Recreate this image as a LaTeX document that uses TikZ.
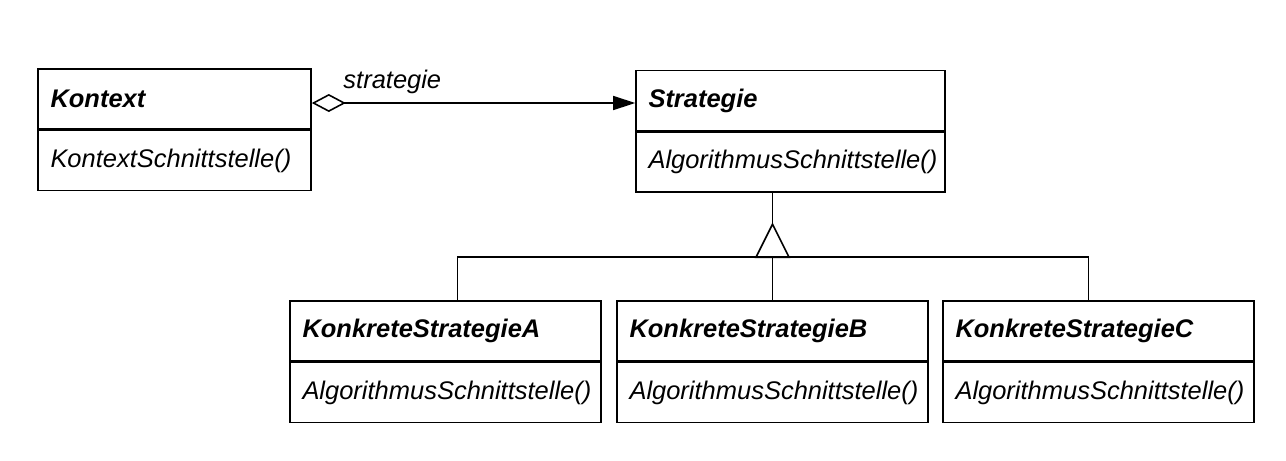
\documentclass[tikz,border=0pt]{standalone}
\usepackage{fontspec}
\setmainfont{Liberation Sans}
\usetikzlibrary{arrows.meta, positioning}

\begin{document}
\begin{tikzpicture}[line width=0.9pt,
        every node/.style={font=\fontsize{14.5}{17}\selectfont\itshape},
        cls/.style={draw, text width=#1, align=left, inner xsep=0.25cm, minimum height=1.2cm},
        clsname/.style={cls=#1, font=\fontsize{14.5}{17}\selectfont\bfseries\itshape}]
        \useasboundingbox (0,0) rectangle (25.72,-9.2);

        \node[clsname=4.96cm] (Ktx) at (3.49,-1.98) {Kontext};
        \node[cls=4.96cm, below=0pt of Ktx] (Ktxop) {KontextSchnittstelle()};

        \node[clsname=5.68cm] (S) at (15.81,-2.01) {Strategie};
        \node[cls=5.68cm, below=0pt of S] (Sop) {AlgorithmusSchnittstelle()};

        \foreach \n/\x in {A/8.91, B/15.45, C/21.97}{
            \node[clsname=5.72cm] (K\n) at (\x,-6.62) {KonkreteStrategie\n};
            \node[cls=5.72cm, below=0pt of K\n] (K\n op) {AlgorithmusSchnittstelle()};
        }

        % aggregation
        \draw[{Diamond[open,length=0.68cm,width=0.36cm]}-{Triangle[length=0.44cm,width=0.28cm]}]
            ([yshift=-0.08cm]Ktx.east) -- node[pos=0, above right, xshift=0.5cm, yshift=0.05cm] {strategie}
            ([yshift=-0.08cm]Ktx.east -| S.west);

        % inheritance
        \path (KB.north) ++(0,0.86) coordinate (base) ++(0,0.66) coordinate (apex);
        \draw (Sop.south -| apex) -- (apex);
        \draw[fill=white] (apex) -- ++(-0.33,-0.66) -- ++(0.66,0) -- cycle;
        \draw ([xshift=0.24cm]KA.north) |- (base) -| ([xshift=-0.2cm]KC.north);
        \draw (base) -- (KB.north);
    \end{tikzpicture}
\end{document}
